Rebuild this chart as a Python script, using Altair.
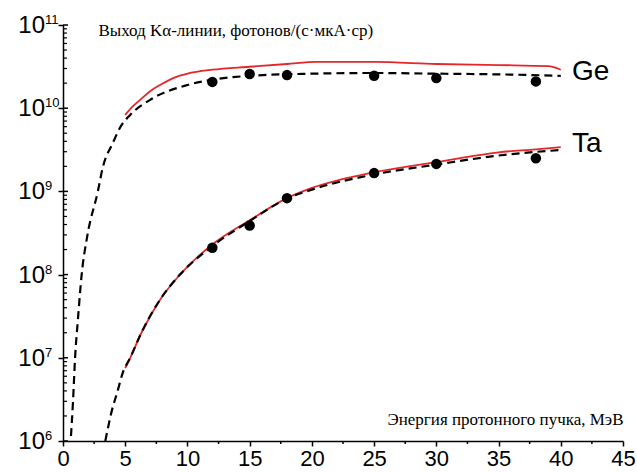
import altair as alt
import pandas as pd

# ---- data ----
ge_calc_x = [5, 5.6, 6.2, 7.0, 7.8, 9.0, 10, 12, 15, 18, 20.4, 25, 30, 35, 39, 40]
ge_calc_y = [8.3e9, 1.05e10, 1.26e10, 1.6e10, 1.9e10, 2.35e10, 2.6e10, 2.9e10, 3.15e10, 3.4e10, 3.6e10, 3.6e10, 3.4e10, 3.3e10, 3.2e10, 2.9e10]

ge_fit_x = [0.64, 0.8, 0.97, 1.2, 1.5, 1.95, 2.8, 3.2, 4.0, 4.6, 5.4, 7.0, 10, 12, 15, 20, 25, 30, 35, 40]
ge_fit_y = [1.15e6, 2.9e6, 1e7, 2.9e7, 1e8, 2.9e8, 1e9, 1.95e9, 3.8e9, 5.9e9, 8.3e9, 1.26e10, 1.9e10, 2.2e10, 2.45e10, 2.6e10, 2.65e10, 2.6e10, 2.55e10, 2.45e10]

ta_calc_x = [5, 5.4, 6.3, 7.8, 9.4, 12, 15, 18, 20, 25, 30, 35, 38, 40]
ta_calc_y = [7.5e6, 1e7, 2e7, 5e7, 1e8, 2.3e8, 4.5e8, 8.3e8, 1.1e9, 1.7e9, 2.25e9, 2.95e9, 3.2e9, 3.4e9]

ta_fit_x = [3.4, 3.95, 4.35, 4.8, 5.4, 6.3, 7.8, 9.4, 12, 15, 18, 20, 25, 30, 35, 40]
ta_fit_y = [1e6, 2.4e6, 3.8e6, 6.6e6, 1e7, 2e7, 5e7, 1e8, 2.2e8, 4.4e8, 8.2e8, 1.05e9, 1.6e9, 2.1e9, 2.7e9, 3.15e9]

ge_exp_x = [12, 15, 18, 25, 30, 38]
ge_exp_y = [2.07e10, 2.58e10, 2.5e10, 2.45e10, 2.3e10, 2.1e10]
ta_exp_x = [12, 15, 18, 25, 30, 38]
ta_exp_y = [2.1e8, 3.9e8, 8.3e8, 1.66e9, 2.14e9, 2.5e9]

elem_names = ["Ge", "Ta"]
elem_label_x = [40.9, 40.9]
elem_label_y = [2.7e10, 3.7e9]

x_ticks = list(range(0, 46, 5))
x_minor = [2.5 + 5 * i for i in range(9)]
y_decades = [6, 7, 8, 9, 10, 11]
y_major = [10.0 ** d for d in y_decades]
y_minor = [k * 10.0 ** d for d in range(6, 11) for k in range(2, 10)]

RED = "#e5262a"

# ---- tables ----
calc_df = pd.DataFrame({
    "x": ge_calc_x + ta_calc_x,
    "y": ge_calc_y + ta_calc_y,
    "el": ["Ge"] * len(ge_calc_x) + ["Ta"] * len(ta_calc_x),
})
fit_df = pd.DataFrame({
    "x": ge_fit_x + ta_fit_x,
    "y": ge_fit_y + ta_fit_y,
    "el": ["Ge"] * len(ge_fit_x) + ["Ta"] * len(ta_fit_x),
})
exp_df = pd.DataFrame({"x": ge_exp_x + ta_exp_x, "y": ge_exp_y + ta_exp_y})
lab_df = pd.DataFrame({"x": elem_label_x, "y": elem_label_y, "t": elem_names})
ymaj_df = pd.DataFrame({"y": y_major, "base": ["10"] * len(y_major), "sup": [str(d) for d in y_decades]})
ymin_df = pd.DataFrame({"y": y_minor})
xmin_df = pd.DataFrame({"x": x_minor})

x_scale = alt.Scale(domain=[0, 45], nice=False, zero=False)
y_scale = alt.Scale(type="log", domain=[1e6, 1e11], nice=False)

x_axis = alt.Axis(
    values=x_ticks, format="d", grid=False,
    labelFont="Liberation Sans", labelFontSize=22, labelColor="black", labelPadding=2,
    labelFlush=False,
    tickColor="black", tickSize=5, tickWidth=1.5,
    domainColor="black", domainWidth=1.5,
    title="Энергия протонного пучка, МэВ", titleFont="Liberation Serif",
    titleFontSize=17, titleFontWeight="normal", titleColor="black",
    titleAlign="right", titleBaseline="middle", titleX=560, titleY=-22,
)
y_axis = alt.Axis(
    values=y_major, labels=False, grid=False,
    tickColor="black", tickSize=5, tickWidth=1.5,
    domainColor="black", domainWidth=1.5,
    title="Выход Kα-линии, фотонов/(с·мкА·ср)", titleFont="Liberation Serif",
    titleFontSize=17, titleFontWeight="normal", titleColor="black",
    titleAngle=0, titleAlign="left", titleBaseline="middle", titleX=35, titleY=5,
)


def X(field="x"):
    return alt.X(f"{field}:Q", scale=x_scale, axis=x_axis)


def Y(field="y"):
    return alt.Y(f"{field}:Q", scale=y_scale, axis=y_axis)


red = alt.Chart(calc_df).mark_line(color=RED, strokeWidth=1.8, interpolate="monotone", clip=True).encode(
    x=X(), y=Y(), detail="el:N")
dash = alt.Chart(fit_df).mark_line(color="black", strokeWidth=2.2, strokeDash=[8, 5],
                                   interpolate="monotone", clip=True).encode(
    x=X(), y=Y(), detail="el:N")
dots = alt.Chart(exp_df).mark_point(filled=True, color="black", opacity=1, size=110).encode(x=X(), y=Y())
labels = alt.Chart(lab_df).mark_text(font="Liberation Sans", fontSize=28, align="left",
                                     baseline="middle", color="black").encode(x=X(), y=Y(), text="t:N")

ymaj_in = alt.Chart(ymaj_df).mark_rule(color="black", strokeWidth=1.5).encode(
    x=alt.value(0), x2=alt.value(5), y=Y())
ymin = alt.Chart(ymin_df).mark_rule(color="black", strokeWidth=1.2).encode(
    x=alt.value(0), x2=alt.value(4), y=Y())
xmin = alt.Chart(xmin_df).mark_rule(color="black", strokeWidth=1.5).encode(
    x=X(), y=alt.value(416), y2=alt.value(419))

base_txt = alt.Chart(ymaj_df).mark_text(font="Liberation Sans", fontSize=24, align="right",
                                        baseline="middle", dy=1, color="black").encode(
    x=alt.value(-18), y=Y(), text="base:N")
sup_txt = alt.Chart(ymaj_df).mark_text(font="Liberation Sans", fontSize=13, align="left",
                                       baseline="alphabetic", dy=-1, color="black").encode(
    x=alt.value(-18), y=Y(), text="sup:N")

chart = alt.layer(red, dash, dots, labels, ymaj_in, ymin, xmin, base_txt, sup_txt).properties(
    width=560, height=416,
    autosize=alt.AutoSizeParams(type="none"),
    padding={"left": 63, "top": 25, "right": 14, "bottom": 31},
    background="white",
).configure_view(stroke=None)

chart.save("out.html", embed_options={"renderer": "svg", "actions": False})
